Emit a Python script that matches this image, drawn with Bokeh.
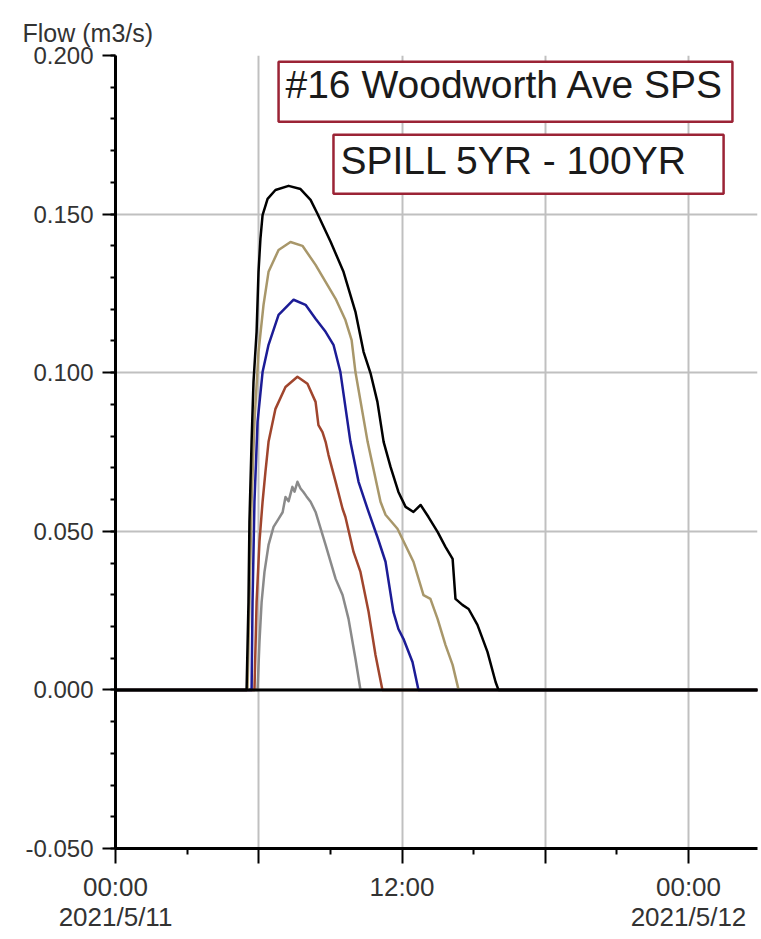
from bokeh.plotting import figure
from bokeh.models import (FixedTicker, PrintfTickFormatter, Range1d, Span,
                          BoxAnnotation, Label)
from bokeh.embed import file_html
from bokeh.resources import INLINE

# ---- data: hours since 2021/5/11 00:00, flow in m3/s ----
t_100yr = [0.0, 5.49, 5.57, 5.61, 5.70, 5.78, 5.91, 5.99, 6.07, 6.16, 6.37, 6.70,
           7.25, 7.75, 8.17, 8.46, 9.01, 9.55, 10.05, 10.39, 10.68, 10.97, 11.23,
           11.52, 11.85, 12.15, 12.48, 12.78, 13.11, 13.49, 13.82, 14.12, 14.24,
           14.53, 14.79, 15.16, 15.58, 15.92, 16.04, 27.0]
q_100yr = [0.0, 0.0, 0.0277, 0.0530, 0.0782, 0.0971, 0.1129, 0.1318, 0.1422, 0.1497,
           0.1548, 0.1576, 0.1589, 0.1579, 0.1545, 0.1501, 0.1413, 0.1318, 0.1192,
           0.1066, 0.0999, 0.0908, 0.0782, 0.0703, 0.0624, 0.0577, 0.0561, 0.0583,
           0.0545, 0.0498, 0.0451, 0.0413, 0.0287, 0.0268, 0.0255, 0.0205, 0.0120,
           0.0025, 0.0, 0.0]

t_50yr = [0.0, 5.53, 5.61, 5.70, 5.82, 5.99, 6.20, 6.41, 6.83, 7.33, 7.83, 8.38,
          8.80, 9.22, 9.63, 9.89, 10.05, 10.56, 11.10, 11.31, 11.81, 12.48, 12.90,
          13.19, 13.49, 13.82, 14.12, 14.37, 27.0]
q_50yr = [0.0, 0.0, 0.0277, 0.0593, 0.0845, 0.1066, 0.1214, 0.1318, 0.1387, 0.1412,
          0.1400, 0.1340, 0.1286, 0.1233, 0.1166, 0.1103, 0.1002, 0.0782, 0.0593,
          0.0552, 0.0508, 0.0404, 0.0299, 0.0287, 0.0224, 0.0142, 0.0079, 0.0, 0.0]

t_25yr = [0.0, 5.70, 5.74, 5.82, 5.95, 6.16, 6.41, 6.83, 7.46, 7.96, 8.38, 8.80,
          9.13, 9.42, 9.84, 10.18, 10.60, 10.97, 11.31, 11.64, 11.85, 12.06, 12.44,
          12.69, 27.0]
q_25yr = [0.0, 0.0, 0.0277, 0.0593, 0.0845, 0.1002, 0.1088, 0.1182, 0.1230, 0.1214,
          0.1170, 0.1129, 0.1088, 0.1002, 0.0782, 0.0656, 0.0561, 0.0482, 0.0404,
          0.0246, 0.0192, 0.0161, 0.0088, 0.0, 0.0]

t_10yr = [0.0, 5.82, 5.91, 6.03, 6.16, 6.28, 6.41, 6.70, 7.12, 7.62, 8.04, 8.38,
          8.50, 8.67, 8.80, 8.92, 9.22, 9.51, 9.63, 9.97, 10.26, 10.60, 10.89,
          11.18, 27.0]
q_10yr = [0.0, 0.0, 0.0277, 0.0467, 0.0593, 0.0687, 0.0782, 0.0886, 0.0955, 0.0987,
          0.0965, 0.0908, 0.0835, 0.0813, 0.0782, 0.0741, 0.0656, 0.0571, 0.0545,
          0.0435, 0.0372, 0.0246, 0.0110, 0.0, 0.0]

t_5yr = [0.0, 5.95, 6.03, 6.12, 6.24, 6.41, 6.62, 6.83, 7.00, 7.12, 7.25, 7.41,
         7.50, 7.62, 7.75, 7.87, 8.00, 8.17, 8.38, 8.80, 9.22, 9.51, 9.76, 10.05,
         10.26, 27.0]
q_5yr = [0.0, 0.0, 0.0151, 0.0277, 0.0372, 0.0457, 0.0514, 0.0539, 0.0560, 0.0608,
         0.0595, 0.0640, 0.0625, 0.0656, 0.0635, 0.0624, 0.0610, 0.0593, 0.0561,
         0.0457, 0.0350, 0.0299, 0.0224, 0.0098, 0.0, 0.0]

x_major = [0, 6, 12, 18, 24]
x_minor = [3, 9, 15, 21]
x_labels = {0: "00:00\n2021/5/11", 6: "", 12: "12:00", 18: "", 24: "00:00\n2021/5/12"}
y_major = [-0.05, 0.0, 0.05, 0.10, 0.15, 0.20]
y_minor = [round(-0.05 + 0.01 * i, 2) for i in range(26)]

y_caption = "Flow (m3/s)"
title_1 = "#16 Woodworth Ave SPS"
title_2 = "SPILL 5YR - 100YR"

FONT = "Liberation Sans"

p = figure(width=760, height=936, output_backend="svg", toolbar_location=None,
           x_range=Range1d(0, 26.89), y_range=Range1d(-0.05, 0.2),
           min_border_left=115, min_border_right=3, min_border_top=55,
           min_border_bottom=88)
p.outline_line_color = None
p.background_fill_color = "white"

# title acting as the y-axis caption
p.title.text = y_caption
p.title.text_font = FONT
p.title.text_font_size = "25px"
p.title.text_font_style = "normal"
p.title.text_color = "#333333"
p.title.align = "left"
p.title.offset = -93
p.title.standoff = 18

series = [
    (t_5yr, q_5yr, "#8a8a8a"),
    (t_10yr, q_10yr, "#a0452d"),
    (t_25yr, q_25yr, "#1c1c96"),
    (t_50yr, q_50yr, "#a8976a"),
    (t_100yr, q_100yr, "#000000"),
]
for t, q, c in series:
    p.line(t, q, line_color=c, line_width=2.5, line_join="round")

p.add_layout(Span(location=0, dimension="width", line_color="black", line_width=3))

# axes
p.xaxis.ticker = FixedTicker(ticks=x_major, minor_ticks=x_minor)
p.xaxis.major_label_overrides = x_labels
p.yaxis.ticker = FixedTicker(ticks=y_major, minor_ticks=y_minor)
p.yaxis.formatter = PrintfTickFormatter(format="%.3f")

for ax in (p.xaxis[0], p.yaxis[0]):
    ax.axis_line_color = "black"
    ax.axis_line_width = 3
    ax.major_tick_line_color = "black"
    ax.major_tick_line_width = 2
    ax.minor_tick_line_color = "black"
    ax.minor_tick_line_width = 2
    ax.major_tick_in = 0
    ax.minor_tick_in = 0
    ax.major_label_text_font = FONT
    ax.major_label_text_color = "#333333"
p.yaxis.major_label_text_font_size = "24px"
p.xaxis.major_label_text_font_size = "26px"
p.xaxis.major_label_text_line_height = 1.0
p.yaxis.major_tick_out = 13
p.yaxis.minor_tick_out = 5
p.yaxis.major_label_standoff = 9
p.xaxis.major_tick_out = 15
p.xaxis.minor_tick_out = 6
p.xaxis.major_label_standoff = 8

p.xgrid.ticker = FixedTicker(ticks=[6, 12, 18, 24])
p.ygrid.ticker = FixedTicker(ticks=y_major)
p.xgrid.grid_line_color = "#c0c0c0"
p.ygrid.grid_line_color = "#c0c0c0"
p.xgrid.grid_line_width = 2
p.ygrid.grid_line_width = 2

# annotation boxes
box_color = "#9b2335"
p.add_layout(BoxAnnotation(left=6.83, right=25.84, top=0.1980, bottom=0.1791,
                           fill_color="white", fill_alpha=1.0,
                           line_color=box_color, line_alpha=1.0, line_width=2.5,
                           level="overlay"))
p.add_layout(BoxAnnotation(left=9.13, right=25.47, top=0.1750, bottom=0.1564,
                           fill_color="white", fill_alpha=1.0,
                           line_color=box_color, line_alpha=1.0, line_width=2.5,
                           level="overlay"))
p.add_layout(Label(x=7.12, y=0.1907, text=title_1, text_font=FONT,
                   text_font_size="39px", text_color="#1a1a1a",
                   text_baseline="alphabetic", text_align="left", level="overlay"))
p.add_layout(Label(x=9.42, y=0.1668, text=title_2, text_font=FONT,
                   text_font_size="39px", text_color="#1a1a1a",
                   text_baseline="alphabetic", text_align="left", level="overlay"))

open("out.html", "w").write(file_html(p, INLINE))
